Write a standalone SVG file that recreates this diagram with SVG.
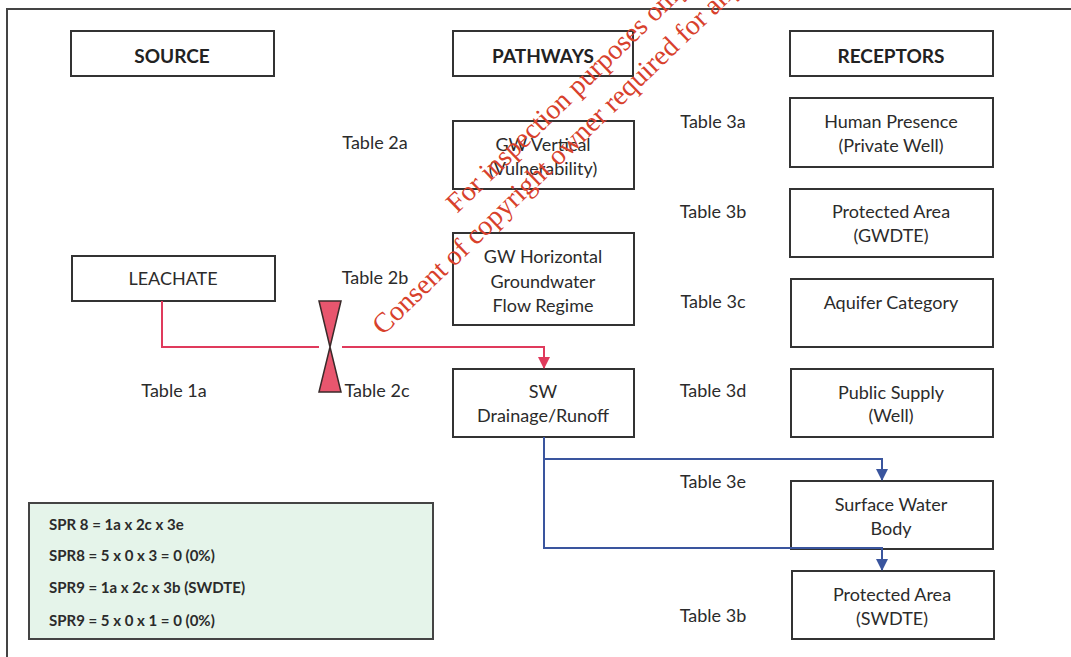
<svg xmlns="http://www.w3.org/2000/svg" width="1071" height="657" viewBox="0 0 1071 657">
  <style>
    .box { fill: #ffffff; stroke: #333333; stroke-width: 2; }
    .t { font-family: Lato, "Liberation Sans", sans-serif; font-size: 18px; fill: #2b2b2b; text-anchor: middle; }
    .h { font-family: Lato, "Liberation Sans", sans-serif; font-size: 19px; font-weight: bold; fill: #222222; text-anchor: middle; }
    .f { font-family: Lato, "Liberation Sans", sans-serif; font-size: 15px; font-weight: bold; fill: #2b2b2b; }
    .red { fill: none; stroke: #e03a5c; stroke-width: 2; }
    .blue { fill: none; stroke: #3a559e; stroke-width: 2; }
    .wm { font-family: "Liberation Serif", serif; font-size: 28px; fill: #d8412c; }
  </style>
  <defs>
    <marker id="arrRed" markerWidth="12" markerHeight="12" refX="11" refY="6" orient="auto" markerUnits="userSpaceOnUse">
      <path d="M0,0 L12,6 L0,12 Z" fill="#e03a5c"/>
    </marker>
    <marker id="arrBlue" markerWidth="12" markerHeight="12" refX="11" refY="6" orient="auto" markerUnits="userSpaceOnUse">
      <path d="M0,0 L12,6 L0,12 Z" fill="#3a559e"/>
    </marker>
  </defs>

  <rect width="1071" height="657" fill="#ffffff"/>
  <!-- outer frame -->
  <path d="M7,657 L7,9 L1071,9" fill="none" stroke="#444444" stroke-width="2"/>

  <!-- column headers -->
  <g id="source"><rect class="box" x="71" y="31" width="203" height="45"/><text class="h" x="172" y="63">SOURCE</text></g>
  <g id="pathways"><rect class="box" x="453" y="31" width="180" height="45"/><text class="h" x="543" y="63">PATHWAYS</text></g>
  <g id="receptors"><rect class="box" x="790" y="31" width="203" height="45"/><text class="h" x="891" y="63">RECEPTORS</text></g>

  <!-- source -->
  <g id="leachate"><rect class="box" x="72" y="256" width="203" height="45"/><text class="t" x="173" y="285">LEACHATE</text></g>

  <!-- pathways -->
  <g id="gw-vertical"><rect class="box" x="453" y="121" width="181" height="68"/>
    <text class="t" x="543" y="151">GW Vertical</text><text class="t" x="543" y="175">(Vulnerability)</text></g>
  <g id="gw-horizontal"><rect class="box" x="453" y="233" width="181" height="92"/>
    <text class="t" x="543" y="263">GW Horizontal</text><text class="t" x="543" y="288">Groundwater</text><text class="t" x="543" y="312">Flow Regime</text></g>
  <g id="sw-drainage"><rect class="box" x="453" y="369" width="181" height="68"/>
    <text class="t" x="543" y="398">SW</text><text class="t" x="543" y="422">Drainage/Runoff</text></g>

  <!-- receptors -->
  <g id="human-presence"><rect class="box" x="790" y="98" width="203" height="69"/>
    <text class="t" x="891" y="128">Human Presence</text><text class="t" x="891" y="152">(Private Well)</text></g>
  <g id="protected-gwdte"><rect class="box" x="790" y="189" width="203" height="68"/>
    <text class="t" x="891" y="218">Protected Area</text><text class="t" x="891" y="242">(GWDTE)</text></g>
  <g id="aquifer"><rect class="box" x="791" y="279" width="202" height="68"/>
    <text class="t" x="891" y="309">Aquifer Category</text></g>
  <g id="public-supply"><rect class="box" x="791" y="369" width="202" height="68"/>
    <text class="t" x="891" y="399">Public Supply</text><text class="t" x="891" y="422">(Well)</text></g>
  <g id="surface-water"><rect class="box" x="791" y="481" width="202" height="68"/>
    <text class="t" x="891" y="511">Surface Water</text><text class="t" x="891" y="535">Body</text></g>
  <g id="protected-swdte"><rect class="box" x="792" y="571" width="202" height="68"/>
    <text class="t" x="892" y="601">Protected Area</text><text class="t" x="892" y="625">(SWDTE)</text></g>

  <!-- table references -->
  <g id="table-labels">
    <text class="t" x="375" y="149">Table 2a</text>
    <text class="t" x="375" y="284">Table 2b</text>
    <text class="t" x="174" y="397">Table 1a</text>
    <text class="t" x="377" y="397">Table 2c</text>
    <text class="t" x="713" y="128">Table 3a</text>
    <text class="t" x="713" y="218">Table 3b</text>
    <text class="t" x="713" y="308">Table 3c</text>
    <text class="t" x="713" y="397">Table 3d</text>
    <text class="t" x="713" y="488">Table 3e</text>
    <text class="t" x="713" y="622">Table 3b</text>
  </g>

  <!-- connectors -->
  <g id="connectors">
    <path class="red" d="M162,301 L162,347 L319,347"/>
    <path class="red" d="M342,347 L544,347 L544,368" marker-end="url(#arrRed)"/>
    <path class="blue" d="M544,437 L544,548 L882,548 L882,570" marker-end="url(#arrBlue)"/>
    <path class="blue" d="M544,459 L882,459 L882,480" marker-end="url(#arrBlue)"/>
  </g>

  <!-- barrier symbol on the leachate pathway -->
  <g id="barrier">
    <path d="M319,301 L341,301 L330,347 Z M330,347 L341,392 L319,392 Z" fill="#e8566e" stroke="#3a2a2a" stroke-width="1.5" stroke-linejoin="miter"/>
  </g>

  <!-- SPR summary -->
  <g id="spr-summary">
    <rect x="29" y="503" width="404" height="136" fill="#e5f4ea" stroke="#444444" stroke-width="2"/>
    <text class="f" x="49" y="530">SPR 8 = 1a x 2c x 3e</text>
    <text class="f" x="49" y="561">SPR8 = 5 x 0 x 3 = 0 (0%)</text>
    <text class="f" x="49" y="593">SPR9 = 1a x 2c x 3b (SWDTE)</text>
    <text class="f" x="49" y="626">SPR9 = 5 x 0 x 1 = 0 (0%)</text>
  </g>

  <!-- stamp, running off the top edge -->
  <g id="stamp">
    <text class="wm" transform="translate(457,214) rotate(-44)">For inspection purposes only</text>
    <text class="wm" transform="translate(383,336) rotate(-44)">Consent of copyright owner required for any</text>
  </g>
</svg>
